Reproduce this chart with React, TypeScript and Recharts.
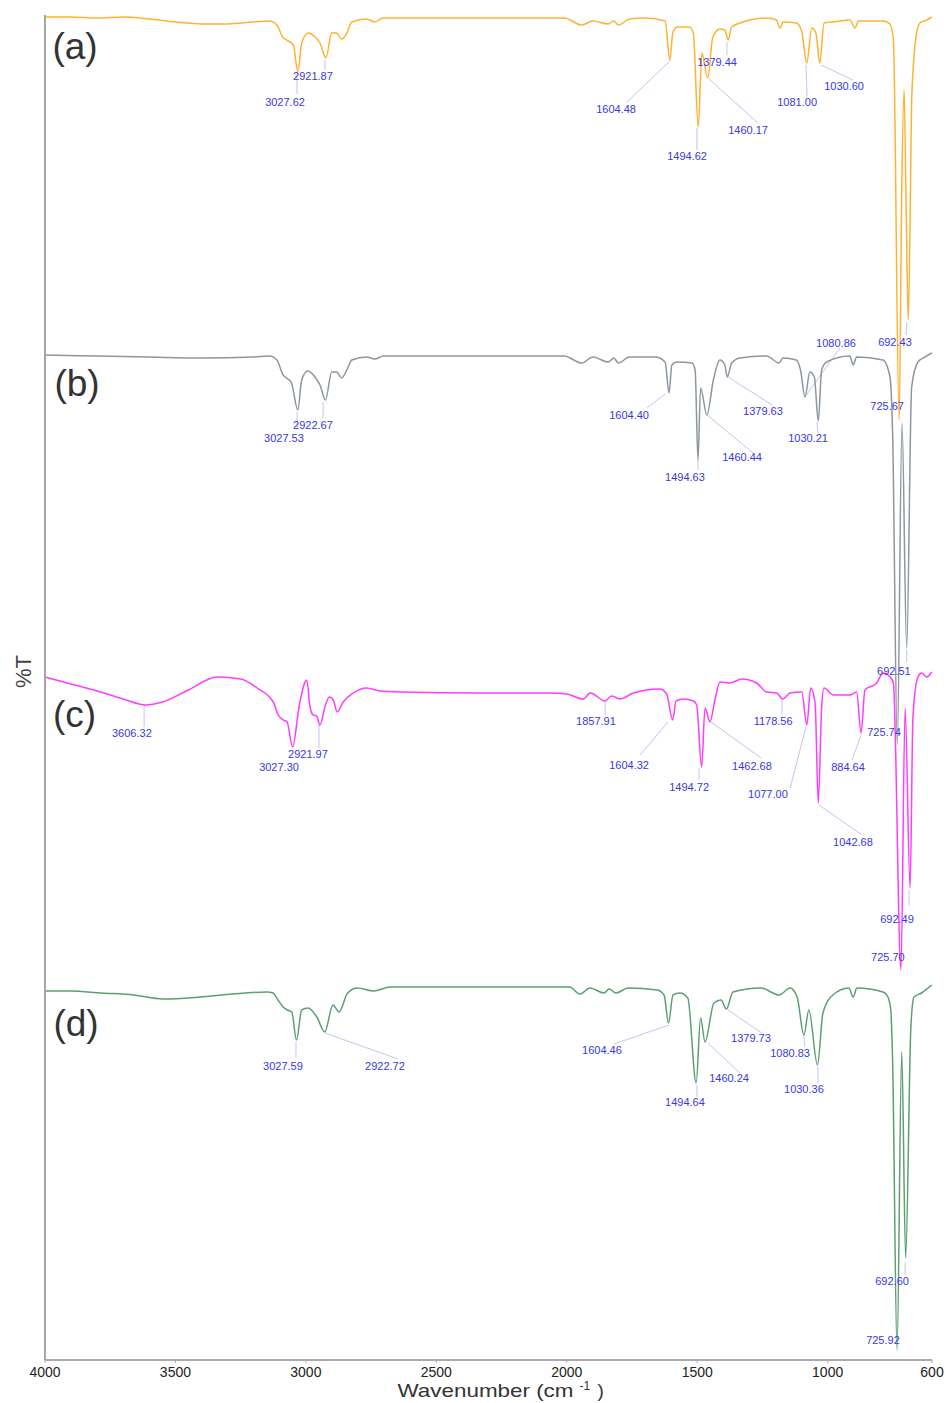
import { LineChart, Line, XAxis, YAxis, ReferenceLine, ReferenceDot } from "recharts";

const FONT = "'Liberation Sans', Arial, Helvetica, sans-serif";

// x axis ticks (cm-1), axis is reversed
const wnTicks = [4000, 3500, 3000, 2500, 2000, 1500, 1000, 600];

// (a) orange spectrum, stacked %T (arbitrary offset units)
const aWn = [4000, 3900, 3800, 3700, 3600, 3500, 3400, 3300, 3200, 3140, 3111, 3087, 3074, 3048, 3031, 3016, 2991, 2965, 2946, 2923, 2901, 2882, 2863, 2843, 2824, 2767, 2735, 2704, 2639, 2400, 2200, 2064, 2010, 1943, 1900, 1841, 1820, 1802, 1760, 1700, 1623, 1605, 1593, 1575, 1530, 1515, 1496, 1482, 1460, 1440, 1413, 1394, 1381, 1368, 1336, 1234, 1196, 1183, 1170, 1119, 1099, 1080, 1061, 1045, 1030, 1014, 980, 915, 895, 882, 788, 761, 748, 726, 716, 707, 699, 691, 682, 678, 659, 646, 620, 601];
const aT = [1343, 1343, 1342, 1343, 1341, 1338, 1336, 1336, 1338, 1339, 1335, 1322, 1320, 1315, 1288, 1317, 1327, 1323, 1317, 1302, 1327, 1327, 1321, 1327, 1338, 1341, 1338, 1342, 1342, 1342, 1342, 1342, 1342, 1335, 1339, 1336, 1339, 1335, 1341, 1342, 1339, 1300, 1328, 1333, 1333, 1327, 1233, 1307, 1282, 1323, 1331, 1330, 1320, 1333, 1337, 1342, 1340, 1332, 1338, 1337, 1328, 1297, 1332, 1327, 1297, 1337, 1338, 1340, 1332, 1339, 1339, 1336, 1320, 940, 1170, 1270, 1150, 1040, 1180, 1260, 1327, 1337, 1340, 1343];

// (b) grey spectrum
const bWn = [4000, 3800, 3600, 3400, 3200, 3140, 3111, 3087, 3074, 3055, 3031, 3016, 2993, 2965, 2946, 2925, 2901, 2882, 2863, 2843, 2824, 2767, 2735, 2704, 2400, 2064, 2010, 1943, 1900, 1841, 1820, 1802, 1760, 1660, 1623, 1608, 1597, 1578, 1520, 1508, 1497, 1487, 1463, 1438, 1413, 1394, 1385, 1368, 1336, 1234, 1186, 1172, 1120, 1104, 1087, 1068, 1051, 1036, 1023, 1004, 915, 902, 889, 788, 761, 751, 733, 715, 697, 678, 654, 627, 608, 600];
const bT = [1005, 1004, 1003, 1002, 1003, 1004, 1000, 985, 982, 977, 950, 980, 989, 983, 975, 960, 988, 988, 982, 990, 1000, 1003, 1001, 1004, 1004, 1004, 1004, 997, 1003, 998, 1002, 997, 1003, 1003, 998, 967, 995, 998, 997, 990, 900, 972, 945, 980, 1000, 995, 983, 997, 1002, 1004, 997, 1002, 1000, 990, 963, 988, 983, 939, 990, 998, 1004, 995, 1003, 1000, 983, 927, 615, 937, 712, 973, 998, 1003, 1006, 1007];

// (c) magenta spectrum
const cWn = [4000, 3900, 3800, 3700, 3615, 3550, 3450, 3341, 3250, 3187, 3125, 3106, 3087, 3072, 3051, 3025, 2997, 2984, 2972, 2959, 2946, 2927, 2910, 2895, 2880, 2857, 2818, 2767, 2716, 2639, 2333, 2064, 2000, 1937, 1910, 1853, 1828, 1796, 1745, 1643, 1617, 1594, 1581, 1553, 1515, 1502, 1483, 1470, 1451, 1432, 1413, 1374, 1329, 1272, 1234, 1195, 1172, 1144, 1099, 1080, 1065, 1048, 1036, 1023, 1014, 978, 915, 889, 872, 857, 812, 787, 761, 748, 719, 703, 684, 673, 654, 640, 620, 601];
const cT = [683, 676, 669, 661, 655, 658, 670, 683, 681, 672, 658, 645, 640, 638, 613, 655, 680, 653, 645, 644, 635, 653, 663, 660, 648, 658, 667, 672, 669, 668, 667, 667, 666, 661, 667, 659, 664, 661, 667, 671, 666, 640, 659, 661, 659, 655, 593, 652, 638, 660, 678, 677, 681, 677, 668, 667, 661, 667, 668, 635, 672, 657, 557, 653, 672, 665, 665, 668, 627, 670, 677, 687, 683, 677, 390, 652, 472, 643, 683, 687, 683, 688];

// (d) green spectrum
const dWn = [4000, 3900, 3785, 3660, 3548, 3406, 3280, 3149, 3126, 3107, 3087, 3071, 3054, 3036, 3016, 2992, 2958, 2928, 2896, 2873, 2840, 2803, 2740, 2678, 2400, 1990, 1949, 1911, 1857, 1838, 1811, 1765, 1654, 1627, 1610, 1593, 1567, 1536, 1504, 1487, 1470, 1436, 1409, 1388, 1363, 1256, 1186, 1144, 1117, 1091, 1072, 1039, 1018, 980, 919, 902, 888, 788, 769, 758, 751, 734, 716, 701, 681, 669, 640, 615, 601];
const dT = [369, 369, 367, 365, 361, 363, 366, 368, 367, 360, 353, 350, 348, 320, 350, 352, 343, 328, 355, 348, 367, 372, 369, 373, 373, 373, 366, 372, 367, 371, 367, 372, 370, 365, 337, 365, 367, 362, 277, 342, 318, 357, 360, 351, 368, 372, 365, 372, 363, 325, 350, 295, 347, 365, 372, 363, 372, 368, 363, 350, 300, 10, 308, 102, 333, 363, 367, 372, 375];

// peak labels: [text, wavenumber, %T] of the label centre
type Lbl = [string, number, number];
// leader lines: [wn1, t1, wn2, t2]
type Seg = [number, number, number, number];

const labelsA: Lbl[] = [["3027.62", 3080, 1258], ["2921.87", 2973, 1284], ["1604.48", 1811, 1251], ["1494.62", 1539, 1204], ["1379.44", 1424, 1298], ["1460.17", 1305, 1230], ["1081.00", 1117, 1258], ["1030.60", 937, 1274], ["692.43", 742, 1018], ["725.67", 772, 954]];
const leadersA: Seg[] = [[3034, 1286, 3034, 1266], [2927, 1300, 2927, 1290], [1604, 1299, 1769, 1258], [1501, 1232, 1501, 1210], [1386, 1318, 1386, 1305], [1455, 1281, 1267, 1237], [1083, 1295, 1079, 1263], [1025, 1295, 903, 1280], [696, 1038, 700, 1025]];

const labelsB: Lbl[] = [["3027.53", 3084, 922], ["2922.67", 2973, 935], ["1604.40", 1761, 945], ["1494.63", 1547, 883], ["1460.44", 1328, 903], ["1379.63", 1248, 949], ["1080.86", 968, 1017], ["1030.21", 1075, 922], ["692.51", 746, 689], ["725.74", 784, 628]];
const leadersB: Seg[] = [[3034, 948, 3034, 930], [2934, 958, 2934, 942], [1623, 966, 1692, 952], [1497, 900, 1497, 890], [1462, 945, 1286, 907], [1382, 983, 1213, 955], [1087, 963, 953, 1012], [1041, 938, 1037, 927], [697, 710, 697, 698]];

const labelsC: Lbl[] = [["3606.32", 3667, 627], ["3027.30", 3103, 593], ["2921.97", 2992, 606], ["1857.91", 1888, 639], ["1604.32", 1761, 595], ["1494.72", 1531, 573], ["1462.68", 1290, 594], ["1178.56", 1209, 639], ["1077.00", 1229, 566], ["1042.68", 903, 518], ["884.64", 922, 593], ["692.49", 734, 441], ["725.70", 769, 403]];
const leadersC: Seg[] = [[3620, 655, 3620, 633], [2950, 635, 2950, 612], [1853, 659, 1853, 645], [1612, 638, 1719, 605], [1493, 592, 1493, 580], [1447, 638, 1255, 602], [1175, 660, 1175, 645], [1083, 633, 1144, 572], [1033, 555, 868, 525], [872, 625, 907, 600], [688, 470, 688, 455]];

const labelsD: Lbl[] = [["3027.59", 3088, 294], ["2922.72", 2697, 294], ["1604.46", 1865, 310], ["1494.64", 1547, 258], ["1460.24", 1378, 282], ["1379.73", 1294, 322], ["1080.83", 1144, 307], ["1030.36", 1091, 271], ["692.60", 753, 79], ["725.92", 788, 20]];
const leadersD: Seg[] = [[3038, 318, 3038, 302], [2927, 327, 2647, 301], [1608, 335, 1819, 316], [1501, 275, 1501, 263], [1459, 317, 1336, 287], [1382, 350, 1252, 327], [1091, 324, 1087, 313], [1037, 293, 1037, 277], [703, 98, 703, 85]];

const panelLabels: Lbl[] = [["(a)", 3885, 1314], ["(b)", 3877, 977], ["(c)", 3887, 646], ["(d)", 3881, 337]];

const toRows = (wn: number[], t: number[]) => wn.map((w, i) => ({ wn: w, t: t[i] }));

// drawn bottom to top so (a) ends up on top
const spectra = [
  { id: "d", data: toRows(dWn, dT), color: "#5c9f72" },
  { id: "c", data: toRows(cWn, cT), color: "#ff3cff" },
  { id: "b", data: toRows(bWn, bT), color: "#8d979e" },
  { id: "a", data: toRows(aWn, aT), color: "#ffb232" },
];

const allLabels = [...labelsA, ...labelsB, ...labelsC, ...labelsD];
const allLeaders = [...leadersA, ...leadersB, ...leadersC, ...leadersD];

function XTitle({ viewBox }: any) {
  // the original title is a little stretched sideways
  const left = viewBox.x + viewBox.width / 2 - 91;
  const base = viewBox.y + 37;
  return (
    <text x={left} y={base} fontFamily={FONT} fontSize={19} fill="#333">
      <tspan textLength={176} lengthAdjust="spacingAndGlyphs">Wavenumber (cm</tspan>
      <tspan x={left + 182} fontSize={12} dy={-7}>-1</tspan>
      <tspan x={left + 200} dy={7}>)</tspan>
    </text>
  );
}

function YTitle({ viewBox }: any) {
  const x = viewBox.x + 23;
  const y = viewBox.y + viewBox.height / 2 - 16;
  return (
    <text x={x} y={y} transform={`rotate(-90 ${x} ${y})`} textAnchor="middle" dominantBaseline="central"
      fontFamily={FONT} fontSize={22} fill="#444">
      %T
    </text>
  );
}

export default function App() {
  return (
    <div style={{ position: "absolute", left: 0, top: 0, width: 946, height: 1403, background: "#fff" }}>
      <LineChart width={946} height={1403} margin={{ top: 15, right: 14, bottom: 0, left: 0 }}>
        <XAxis
          dataKey="wn"
          type="number"
          domain={[600, 4000]}
          reversed
          ticks={wnTicks}
          interval={0}
          height={43}
          tickSize={3}
          tickMargin={4}
          tick={{ fontSize: 14, fill: "#222", fontFamily: FONT }}
          tickLine={{ stroke: "#aaa" }}
          axisLine={{ stroke: "#aaa", strokeWidth: 2 }}
          label={{ value: "Wavenumber", content: XTitle }}
        />
        <YAxis
          type="number"
          domain={[0, 1345]}
          allowDataOverflow
          width={45}
          tick={false}
          tickLine={false}
          axisLine={{ stroke: "#a6a6a6", strokeWidth: 2 }}
          label={{ value: "%T", content: YTitle }}
        />
        {allLeaders.map(([w1, t1, w2, t2], i) => (
          <ReferenceLine
            key={`s${i}`}
            segment={[{ x: w1, y: t1 }, { x: w2, y: t2 }]}
            stroke="#c4c4f2"
            strokeWidth={1}
            ifOverflow="visible"
          />
        ))}
        {spectra.map((s) => (
          <Line
            key={s.id}
            data={s.data}
            dataKey="t"
            type="monotone"
            stroke={s.color}
            strokeWidth={1.5}
            dot={false}
            activeDot={false}
            isAnimationActive={false}
          />
        ))}
        {allLabels.map(([txt, w, t], i) => (
          <ReferenceDot
            key={`l${i}`}
            x={w}
            y={t}
            r={0}
            fill="none"
            stroke="none"
            ifOverflow="visible"
            label={{ value: txt, position: "center", fontSize: 11, fill: "#3838e6", fontFamily: FONT }}
          />
        ))}
        {panelLabels.map(([txt, w, t]) => (
          <ReferenceDot
            key={txt}
            x={w}
            y={t}
            r={0}
            fill="none"
            stroke="none"
            ifOverflow="visible"
            label={{ value: txt, position: "center", fontSize: 37, fill: "#333", fontFamily: FONT }}
          />
        ))}
      </LineChart>
    </div>
  );
}
